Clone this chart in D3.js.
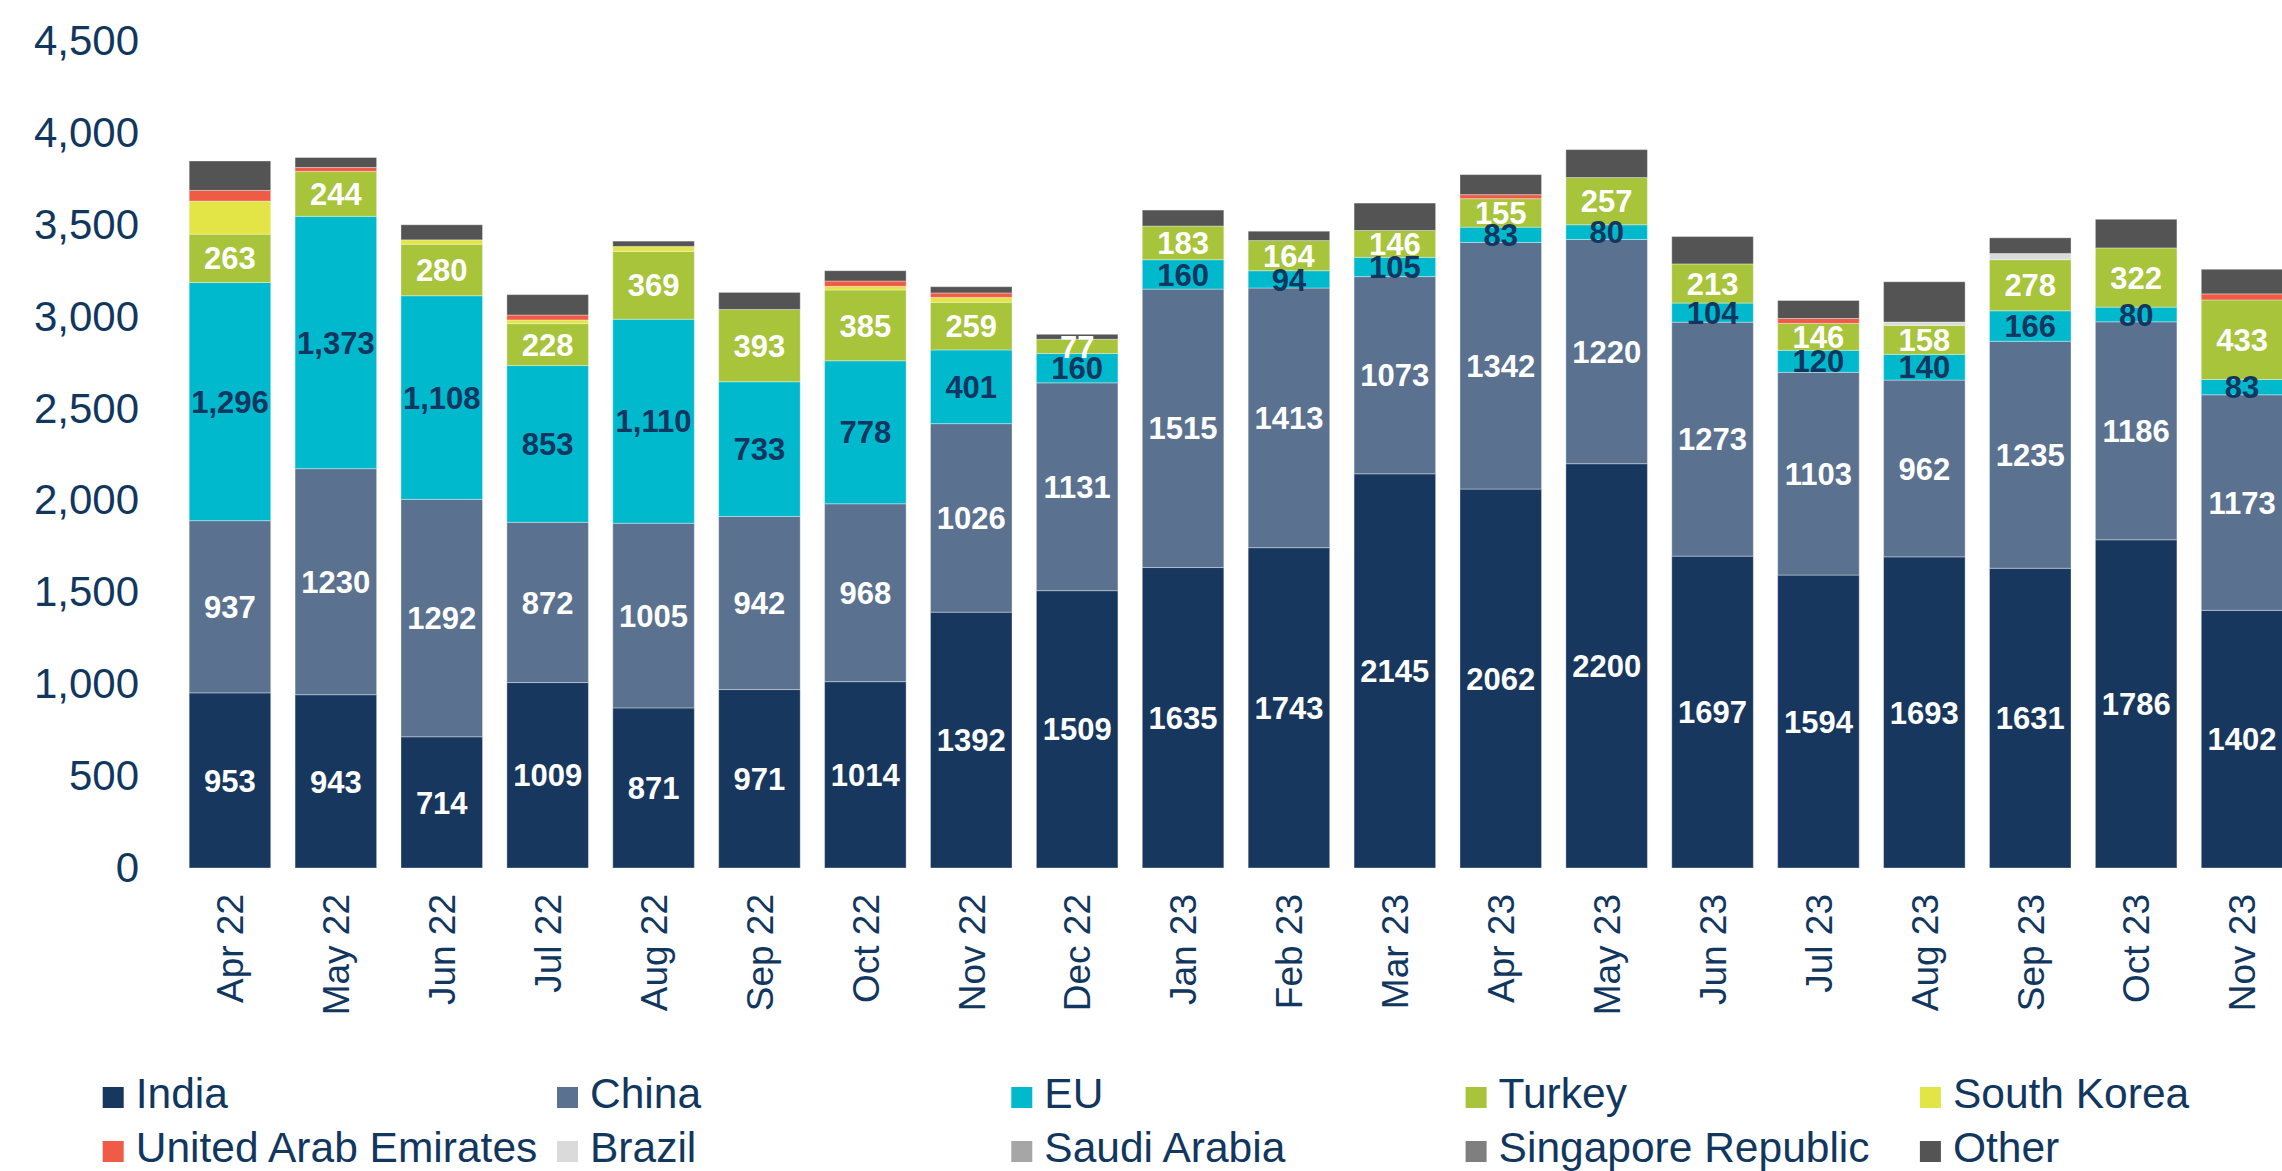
<!DOCTYPE html>
<html>
<head>
<meta charset="utf-8">
<script src="https://cdn.jsdelivr.net/npm/d3@7"></script>
<style>
  html, body { margin: 0; padding: 0; background: #fff; }
  svg { display: block; font-family: Arial, "Liberation Sans", sans-serif; }
</style>
</head>
<body>
<svg id="chart" width="2282" height="1171"></svg>
<script>
// months on the x axis
const months = ['Apr 22', 'May 22', 'Jun 22', 'Jul 22', 'Aug 22', 'Sep 22', 'Oct 22', 'Nov 22', 'Dec 22',
  'Jan 23', 'Feb 23', 'Mar 23', 'Apr 23', 'May 23', 'Jun 23', 'Jul 23', 'Aug 23', 'Sep 23', 'Oct 23', 'Nov 23'];

// series, bottom to top of each stack
const india     = [953, 943, 714, 1009, 871, 971, 1014, 1392, 1509, 1635, 1743, 2145, 2062, 2200, 1697, 1594, 1693, 1631, 1786, 1402];
const china     = [937, 1230, 1292, 872, 1005, 942, 968, 1026, 1131, 1515, 1413, 1073, 1342, 1220, 1273, 1103, 962, 1235, 1186, 1173];
const eu        = [1296, 1373, 1108, 853, 1110, 733, 778, 401, 160, 160, 94, 105, 83, 80, 104, 120, 140, 166, 80, 83];
const turkey    = [263, 244, 280, 228, 369, 393, 385, 259, 77, 183, 164, 146, 155, 257, 213, 146, 158, 278, 322, 433];
const southKorea = [180, 0, 24, 20, 27, 0, 20, 27, 0, 0, 0, 0, 0, 0, 0, 0, 0, 0, 0, 0];
const uae       = [58, 22, 0, 27, 0, 0, 29, 24, 0, 0, 0, 0, 22, 0, 0, 27, 0, 0, 0, 33];
const brazil    = [0, 0, 0, 0, 0, 0, 0, 0, 0, 0, 0, 0, 0, 0, 0, 0, 18, 34, 0, 0];
const saudi     = [0, 0, 0, 0, 0, 0, 0, 0, 0, 0, 0, 0, 0, 0, 0, 0, 0, 0, 0, 0];
const singapore = [0, 0, 0, 0, 0, 0, 0, 0, 0, 0, 0, 0, 0, 0, 0, 0, 0, 0, 0, 0];
const other     = [160, 54, 82, 111, 29, 93, 56, 34, 27, 87, 51, 149, 109, 152, 149, 98, 219, 85, 156, 134];

const yTicks = [0, 500, 1000, 1500, 2000, 2500, 3000, 3500, 4000, 4500];

const seriesNames = ['India', 'China', 'EU', 'Turkey', 'South Korea', 'United Arab Emirates',
  'Brazil', 'Saudi Arabia', 'Singapore Republic', 'Other'];
const seriesValues = [india, china, eu, turkey, southKorea, uae, brazil, saudi, singapore, other];
const colors = ['#17375e', '#5a7290', '#00b9cd', '#a7c43a', '#e3e445', '#f05b45',
  '#dadada', '#a6a6a6', '#7f7f7f', '#545454'];

// which series carry value labels, and their look
const labelled = { India: '#ffffff', China: '#ffffff', EU: '#11365f', Turkey: '#ffffff' };
const navy = '#12375f';

const svg = d3.select('#chart');

// build rows for d3.stack
const rows = months.map((m, i) => {
  const r = { month: m };
  seriesNames.forEach((s, k) => { r[s] = seriesValues[k][i]; });
  return r;
});
const stacked = d3.stack().keys(seriesNames)(rows);

const x = d3.scaleBand()
  .domain(months)
  .range([177, 2295])
  .paddingInner(0.23)
  .paddingOuter(0.115);

const y = d3.scaleLinear()
  .domain([0, 4500])
  .range([868, 41]);

const color = d3.scaleOrdinal().domain(seriesNames).range(colors);

// bars
const layer = svg.append('g').selectAll('g')
  .data(stacked)
  .join('g')
  .attr('fill', d => color(d.key));

layer.selectAll('rect')
  .data(d => d.map(v => Object.assign(v, { key: d.key })))
  .join('rect')
  .attr('x', d => x(d.data.month))
  .attr('width', x.bandwidth())
  .attr('y', d => y(d[1]))
  .attr('height', d => Math.max(0, y(d[0]) - y(d[1])))
  .attr('stroke', 'rgba(255,255,255,0.35)')
  .attr('stroke-width', 1);

// value labels in the middle of each segment
const fmtComma = d3.format(',');
const fmtPlain = d3.format('d');
stacked.filter(s => labelled[s.key]).forEach(s => {
  svg.append('g')
    .selectAll('text')
    .data(s)
    .join('text')
    .attr('x', d => x(d.data.month) + x.bandwidth() / 2)
    .attr('y', d => (y(d[0]) + y(d[1])) / 2)
    .attr('dy', '0.36em')
    .attr('text-anchor', 'middle')
    .attr('font-size', 31)
    .attr('font-weight', 'bold')
    .attr('fill', labelled[s.key])
    .text(d => {
      const v = d[1] - d[0];
      return s.key === 'EU' ? fmtComma(v) : fmtPlain(v);
    });
});

// y axis
const yAxis = svg.append('g')
  .attr('transform', 'translate(139,0)')
  .call(d3.axisLeft(y).tickValues(yTicks).tickSize(0).tickPadding(0).tickFormat(d3.format(',')));
yAxis.select('.domain').remove();
yAxis.selectAll('text')
  .attr('font-size', 42)
  .attr('font-family', 'Arial, "Liberation Sans", sans-serif')
  .attr('fill', navy);

// x axis, rotated labels
const xAxis = svg.append('g')
  .attr('transform', 'translate(0,894)')
  .call(d3.axisBottom(x).tickSize(0).tickPadding(0));
xAxis.select('.domain').remove();
xAxis.selectAll('text')
  .attr('font-size', 37)
  .attr('font-family', 'Arial, "Liberation Sans", sans-serif')
  .attr('fill', navy)
  .attr('text-anchor', 'end')
  .attr('transform', 'rotate(-90)')
  .attr('x', 0)
  .attr('y', 0)
  .attr('dy', '0.36em');

// legend: 5 columns, 2 rows
const legend = svg.append('g')
  .selectAll('g')
  .data(seriesNames)
  .join('g')
  .attr('transform', (d, i) => `translate(${102.7 + (i % 5) * 454.3},${i < 5 ? 1087 : 1141})`);

legend.append('rect')
  .attr('width', 21)
  .attr('height', 21)
  .attr('fill', d => color(d));

legend.append('text')
  .attr('x', 33)
  .attr('y', 21)
  .attr('font-size', 42.5)
  .attr('fill', navy)
  .text(d => d);
</script>
</body>
</html>
